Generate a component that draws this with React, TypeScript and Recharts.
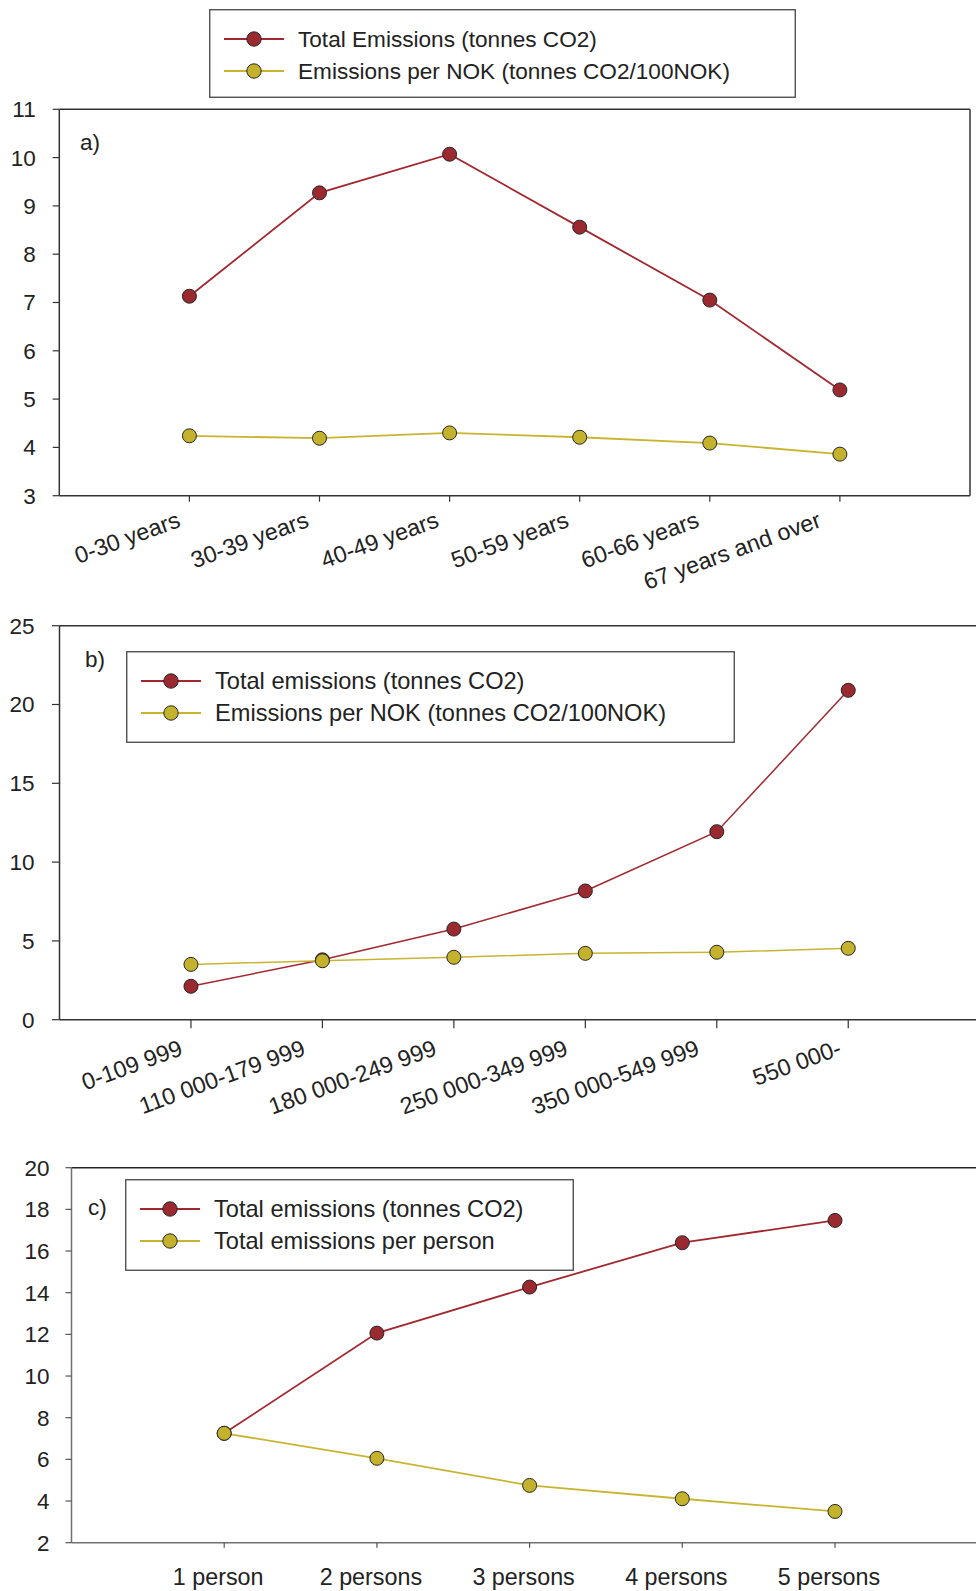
import React from 'react';
import { LineChart, Line, XAxis, YAxis, Legend, ReferenceLine } from 'recharts';

// ---- data ----
const ageGroups = ['0-30 years', '30-39 years', '40-49 years', '50-59 years', '60-66 years', '67 years and over'];
const ageTotal = [7.13, 9.27, 10.07, 8.56, 7.05, 5.19];
const agePerNok = [4.24, 4.19, 4.3, 4.21, 4.09, 3.86];

const incomeGroups = ['0-109 999', '110 000-179 999', '180 000-249 999', '250 000-349 999', '350 000-549 999', '550 000-'];
const incomeTotal = [2.12, 3.8, 5.75, 8.17, 11.93, 20.9];
const incomePerNok = [3.51, 3.74, 3.96, 4.21, 4.28, 4.53];

const householdSizes = ['1 person', '2 persons', '3 persons', '4 persons', '5 persons'];
const householdTotal = [7.25, 12.06, 14.27, 16.4, 17.47];
const householdPerPerson = [7.25, 6.05, 4.75, 4.11, 3.5];

const ageTicks = [3, 4, 5, 6, 7, 8, 9, 10, 11];
const incomeTicks = [0, 5, 10, 15, 20, 25];
const householdTicks = [2, 4, 6, 8, 10, 12, 14, 16, 18, 20];

// ---- styling ----
const FONT = '"Liberation Sans", Arial, Helvetica, sans-serif';
const INK = '#222';
const RED_LINE = '#a2282f';
const RED_FILL = '#9a2a30';
const YEL_LINE = '#c8b430';
const YEL_FILL = '#c4b22c';
const DOT_STROKE = '#262626';
const SLANT_SIZE = 23.3;

const fills: Record<string, string> = { total: RED_FILL, second: YEL_FILL };
const seriesOrder = ['total', 'second'];

const rows = (labels: string[], a: number[], b: number[]) =>
  labels.map((label, i) => ({ pos: i + 1, label, total: a[i], second: b[i] }));

const ageData = rows(ageGroups, ageTotal, agePerNok);
const incomeData = rows(incomeGroups, incomeTotal, incomePerNok);
const householdData = rows(householdSizes, householdTotal, householdPerPerson);

let measureCtx: CanvasRenderingContext2D | null = null;
function textWidth(s: string, size: number) {
  if (!measureCtx) measureCtx = document.createElement('canvas').getContext('2d');
  if (!measureCtx) return s.length * size * 0.5;
  measureCtx.font = `${size}px "Liberation Sans"`;
  return measureCtx.measureText(s).width;
}

// Slanted category label, end-anchored just left of its tick.
function SlantedTick(props: any) {
  const { x, y, payload, labels, drop } = props;
  const label: string = labels[Math.round(payload.value) - 1] ?? '';
  const w = textWidth(label, SLANT_SIZE);
  const ax = x + 6 - 0.125 * w;
  const ay = y + drop;
  return (
    <text
      x={ax}
      y={ay}
      transform={`rotate(-20 ${ax} ${ay})`}
      textAnchor="end"
      fontSize={SLANT_SIZE}
      fontFamily={FONT}
      fill={INK}
    >
      {label}
    </text>
  );
}

function FlatTick(props: any) {
  const { x, y, payload, labels } = props;
  const label: string = labels[Math.round(payload.value) - 1] ?? '';
  return (
    <text x={x - 6} y={y + 37} textAnchor="middle" fontSize={23.3} fontFamily={FONT} fill={INK}>
      {label}
    </text>
  );
}

function LegendBox(props: any) {
  const { payload = [], width, height, fontSize } = props;
  const items = [...payload].sort(
    (p: any, q: any) => seriesOrder.indexOf(String(p.dataKey)) - seriesOrder.indexOf(String(q.dataKey))
  );
  const rowY = [30, 62];
  return (
    <svg width={width} height={height} style={{ display: 'block' }}>
      <rect x={0.75} y={0.75} width={width - 1.5} height={height - 1.5} fill="#fff" stroke="#444" strokeWidth={1.3} />
      {items.map((it: any, i: number) => (
        <g key={String(it.dataKey)}>
          <line x1={15} x2={75} y1={rowY[i]} y2={rowY[i]} stroke={it.color} strokeWidth={1.8} />
          <circle cx={45} cy={rowY[i]} r={7.2} fill={fills[String(it.dataKey)]} stroke={DOT_STROKE} strokeWidth={1} />
          <text x={89} y={rowY[i]} dy="0.36em" fontSize={fontSize} fontFamily={FONT} fill={INK}>
            {it.value}
          </text>
        </g>
      ))}
    </svg>
  );
}

const dot = (fill: string) => ({ r: 7, fill, stroke: DOT_STROKE, strokeWidth: 1 });
const yTick = { fontSize: 22.5, fill: INK, fontFamily: FONT };

export default function App() {
  return (
    <div
      style={{
        position: 'absolute',
        left: 0,
        top: 0,
        width: 976,
        height: 1591,
        overflow: 'hidden',
        background: '#fff',
        fontFamily: FONT,
      }}
    >
      {/* a) by age */}
      <div style={{ position: 'absolute', left: 0, top: 0 }}>
        <LineChart width={976} height={600} data={ageData} margin={{ top: 109.3, right: 6, left: 0, bottom: 74.3 }}>
          <XAxis
            type="number"
            dataKey="pos"
            domain={[0, 7]}
            ticks={[1, 2, 3, 4, 5, 6]}
            interval={0}
            height={30}
            tickSize={6}
            tickMargin={0}
            axisLine={{ stroke: '#333', strokeWidth: 1.5 }}
            tickLine={{ stroke: '#333', strokeWidth: 1.2 }}
            tick={<SlantedTick labels={ageGroups} drop={24.6} />}
          />
          <YAxis
            type="number"
            domain={[3, 11]}
            ticks={ageTicks}
            interval={0}
            width={59.3}
            tickSize={6.6}
            tickMargin={17}
            axisLine={{ stroke: '#333', strokeWidth: 1.5 }}
            tickLine={{ stroke: '#333', strokeWidth: 1.2 }}
            tick={yTick}
          />
          <ReferenceLine y={11} stroke="#333" strokeWidth={1.5} />
          <ReferenceLine x={7} stroke="#333" strokeWidth={1.5} />
          <Line
            dataKey="total"
            name="Total Emissions (tonnes CO2)"
            stroke={RED_LINE}
            strokeWidth={1.8}
            dot={dot(RED_FILL)}
            activeDot={false}
            isAnimationActive={false}
          />
          <Line
            dataKey="second"
            name="Emissions per NOK (tonnes CO2/100NOK)"
            stroke={YEL_LINE}
            strokeWidth={1.8}
            dot={dot(YEL_FILL)}
            activeDot={false}
            isAnimationActive={false}
          />
          <Legend
            layout="horizontal"
            verticalAlign="middle"
            align="center"
            wrapperStyle={{ left: 209.3, top: 9.3, width: 587, height: 89 }}
            content={(p: any) => <LegendBox {...p} width={587} height={89} fontSize={22.6} />}
          />
          <text x={80} y={150} fontSize={22.5} fontFamily={FONT} fill={INK}>
            a)
          </text>
        </LineChart>
      </div>

      {/* b) by income */}
      <div style={{ position: 'absolute', left: 0, top: 560 }}>
        <LineChart width={986} height={560} data={incomeData} margin={{ top: 65.7, right: 6.3, left: 0, bottom: 70.3 }}>
          <XAxis
            type="number"
            dataKey="pos"
            domain={[0, 7]}
            ticks={[1, 2, 3, 4, 5, 6]}
            interval={0}
            height={30}
            tickSize={8.5}
            tickMargin={0}
            axisLine={{ stroke: '#333', strokeWidth: 1.5 }}
            tickLine={{ stroke: '#333', strokeWidth: 1.2 }}
            tick={<SlantedTick labels={incomeGroups} drop={26.3} />}
          />
          <YAxis
            type="number"
            domain={[0, 25]}
            ticks={incomeTicks}
            interval={0}
            width={59.5}
            tickSize={7.6}
            tickMargin={17.4}
            axisLine={{ stroke: '#333', strokeWidth: 1.5 }}
            tickLine={{ stroke: '#333', strokeWidth: 1.2 }}
            tick={yTick}
          />
          <ReferenceLine y={25} stroke="#333" strokeWidth={1.5} />
          <Line
            dataKey="total"
            name="Total emissions (tonnes CO2)"
            stroke={RED_LINE}
            strokeWidth={1.5}
            dot={dot(RED_FILL)}
            activeDot={false}
            isAnimationActive={false}
          />
          <Line
            dataKey="second"
            name="Emissions per NOK (tonnes CO2/100NOK)"
            stroke={YEL_LINE}
            strokeWidth={1.5}
            dot={dot(YEL_FILL)}
            activeDot={false}
            isAnimationActive={false}
          />
          <Legend
            layout="horizontal"
            verticalAlign="middle"
            align="center"
            wrapperStyle={{ left: 126.3, top: 90.7, width: 609, height: 92 }}
            content={(p: any) => <LegendBox {...p} width={609} height={92} fontSize={23.6} />}
          />
          <text x={85} y={107} fontSize={22.5} fontFamily={FONT} fill={INK}>
            b)
          </text>
        </LineChart>
      </div>

      {/* c) by household size */}
      <div style={{ position: 'absolute', left: 0, top: 1100 }}>
        <LineChart width={992} height={491} data={householdData} margin={{ top: 67.7, right: 4.3, left: 0, bottom: 18.3 }}>
          <XAxis
            type="number"
            dataKey="pos"
            domain={[0, 6]}
            ticks={[1, 2, 3, 4, 5]}
            interval={0}
            height={30}
            tickSize={5}
            tickMargin={0}
            axisLine={{ stroke: '#707070', strokeWidth: 1.5 }}
            tickLine={{ stroke: '#555', strokeWidth: 1.2 }}
            tick={<FlatTick labels={householdSizes} />}
          />
          <YAxis
            type="number"
            domain={[2, 20]}
            ticks={householdTicks}
            interval={0}
            width={71.5}
            tickSize={6}
            tickMargin={16}
            axisLine={{ stroke: '#707070', strokeWidth: 1.5 }}
            tickLine={{ stroke: '#555', strokeWidth: 1.2 }}
            tick={yTick}
          />
          <ReferenceLine y={20} stroke="#222" strokeWidth={1.5} />
          <Line
            dataKey="total"
            name="Total emissions (tonnes CO2)"
            stroke={RED_LINE}
            strokeWidth={1.8}
            dot={dot(RED_FILL)}
            activeDot={false}
            isAnimationActive={false}
          />
          <Line
            dataKey="second"
            name="Total emissions per person"
            stroke={YEL_LINE}
            strokeWidth={1.8}
            dot={dot(YEL_FILL)}
            activeDot={false}
            isAnimationActive={false}
          />
          <Legend
            layout="horizontal"
            verticalAlign="middle"
            align="center"
            wrapperStyle={{ left: 125.3, top: 79, width: 449, height: 92 }}
            content={(p: any) => <LegendBox {...p} width={449} height={92} fontSize={23.6} />}
          />
          <text x={88} y={114.5} fontSize={22.5} fontFamily={FONT} fill={INK}>
            c)
          </text>
        </LineChart>
      </div>
    </div>
  );
}
